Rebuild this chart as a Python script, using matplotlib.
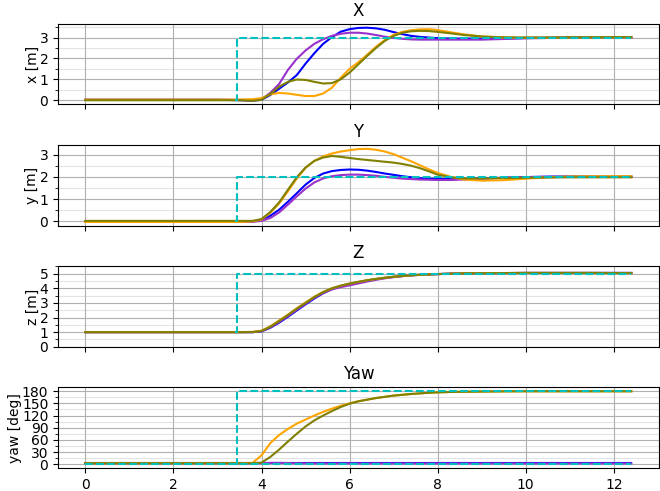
import matplotlib
matplotlib.use("Agg")
import matplotlib.pyplot as plt
from matplotlib.ticker import AutoMinorLocator

t = [0, 1, 2, 3, 3.5, 3.8, 4.0, 4.2, 4.4, 4.6, 4.8, 5.0, 5.2, 5.4, 5.6, 5.8, 6.0,
     6.2, 6.4, 6.6, 6.8, 7.0, 7.2, 7.4, 7.6, 7.8, 8.0, 8.3, 8.6, 9.0, 9.5, 10.0,
     10.5, 11.0, 11.5, 12.0, 12.4]

# reference set-points
t_ref_a = [0, 12.4]
t_ref_b = [3.4, 3.45, 3.45, 12.4]
x_ref = [0, 0, 3, 3]
y_ref = [0, 0, 2, 2]
z_ref = [1, 1, 5, 5]
yaw_ref_a = [0, 0]
yaw_ref_b = [0, 0, 180, 180]

# X [m]
x_blue = [0.02, 0.02, 0.02, 0.02, 0.0, -0.02, 0.02, 0.25, 0.55, 0.85, 1.2, 1.75, 2.25, 2.7, 3.02, 3.28, 3.4,
          3.46, 3.47, 3.44, 3.37, 3.26, 3.16, 3.08, 3.03, 3.0, 2.97, 2.95, 2.95, 2.95, 2.96, 2.98,
          2.99, 3.0, 3.0, 3.0, 3.0]
x_purple = [0.02, 0.02, 0.02, 0.02, 0.02, 0.0, 0.05, 0.35, 0.78, 1.45, 1.98, 2.38, 2.7, 2.92, 3.08, 3.18, 3.23,
            3.23, 3.19, 3.12, 3.04, 2.98, 2.94, 2.91, 2.9, 2.9, 2.9, 2.9, 2.9, 2.9, 2.93, 2.96,
            2.98, 3.0, 3.0, 3.0, 3.0]
x_orange = [0.03, 0.03, 0.03, 0.03, 0.03, 0.05, 0.1, 0.28, 0.35, 0.32, 0.26, 0.2, 0.2, 0.32, 0.6, 1.08, 1.5,
            1.82, 2.18, 2.56, 2.88, 3.13, 3.27, 3.35, 3.39, 3.4, 3.36, 3.25, 3.15, 3.05, 3.0, 2.99,
            2.99, 3.0, 3.0, 3.0, 3.0]
x_olive = [0.0, 0.0, 0.0, 0.0, 0.0, -0.03, 0.02, 0.3, 0.65, 0.88, 0.99, 0.97, 0.88, 0.8, 0.82, 1.0, 1.32,
           1.72, 2.12, 2.5, 2.84, 3.08, 3.23, 3.3, 3.32, 3.31, 3.27, 3.2, 3.12, 3.05, 3.01, 3.0,
           3.0, 3.01, 3.01, 3.02, 3.02]

# Y [m]
y_blue = [0.0, 0.0, 0.0, 0.0, 0.0, 0.0, 0.05, 0.25, 0.52, 0.88, 1.26, 1.65, 1.95, 2.15, 2.26, 2.31, 2.33,
          2.32, 2.28, 2.22, 2.15, 2.09, 2.03, 1.98, 1.94, 1.92, 1.91, 1.9, 1.91, 1.93, 1.96, 1.99,
          2.01, 2.02, 2.02, 2.01, 2.01]
y_purple = [-0.02, -0.02, -0.02, -0.02, -0.02, -0.02, 0.02, 0.15, 0.4, 0.75, 1.12, 1.47, 1.75, 1.93, 2.03, 2.08, 2.1,
            2.1, 2.08, 2.05, 2.0, 1.96, 1.92, 1.9, 1.88, 1.87, 1.86, 1.86, 1.88, 1.92, 1.96, 1.99,
            2.0, 2.0, 2.0, 2.0, 2.0]
y_orange = [-0.03, -0.03, -0.03, -0.03, -0.03, 0.0, 0.08, 0.38, 0.8, 1.35, 1.92, 2.4, 2.72, 2.92, 3.05, 3.14, 3.2,
            3.25, 3.26, 3.22, 3.14, 3.02, 2.86, 2.7, 2.52, 2.34, 2.18, 2.0, 1.88, 1.83, 1.85, 1.92,
            1.98, 2.02, 2.03, 2.03, 2.03]
y_olive = [0.02, 0.02, 0.02, 0.02, 0.02, 0.02, 0.1, 0.42, 0.85, 1.42, 1.98, 2.42, 2.72, 2.87, 2.94, 2.9, 2.85,
           2.8, 2.76, 2.72, 2.68, 2.64, 2.58, 2.5, 2.39, 2.25, 2.1, 1.98, 1.93, 1.93, 1.95, 1.96,
           1.97, 1.98, 1.98, 1.98, 1.98]

# Z [m]
z_blue = [1.0, 1.0, 1.0, 1.0, 1.0, 1.0, 1.05, 1.3, 1.65, 2.05, 2.48, 2.9, 3.3, 3.66, 3.94, 4.15, 4.3,
          4.42, 4.53, 4.63, 4.71, 4.78, 4.84, 4.89, 4.92, 4.95, 4.97, 5.0, 5.02, 5.03, 5.04, 5.05,
          5.05, 5.05, 5.05, 5.05, 5.05]
z_purple = [1.0, 1.0, 1.0, 1.0, 1.0, 1.0, 1.06, 1.33, 1.7, 2.1, 2.53, 2.95, 3.35, 3.68, 3.92, 4.08, 4.2,
            4.33, 4.46, 4.58, 4.68, 4.76, 4.83, 4.88, 4.92, 4.95, 4.97, 5.0, 5.02, 5.03, 5.04, 5.05,
            5.05, 5.05, 5.05, 5.05, 5.05]
z_orange = [1.0, 1.0, 1.0, 1.0, 1.0, 1.02, 1.1, 1.4, 1.8, 2.2, 2.63, 3.03, 3.42, 3.75, 4.0, 4.18, 4.32,
            4.44, 4.55, 4.64, 4.72, 4.79, 4.84, 4.89, 4.92, 4.95, 4.97, 5.0, 5.02, 5.03, 5.04, 5.05,
            5.05, 5.05, 5.05, 5.04, 5.04]
z_olive = [1.0, 1.0, 1.0, 1.0, 1.0, 1.01, 1.08, 1.37, 1.76, 2.17, 2.6, 3.0, 3.4, 3.74, 4.0, 4.18, 4.32,
           4.44, 4.55, 4.64, 4.72, 4.79, 4.84, 4.89, 4.92, 4.95, 4.97, 5.0, 5.02, 5.03, 5.04, 5.05,
           5.05, 5.05, 5.05, 5.04, 5.04]

# Yaw [deg]
yaw_blue = [2.0, 2.0, 2.0, 2.0, 2.0, 2.0, 2.0, 2.0, 2.0, 2.0, 2.0, 2.0, 2.0, 2.0, 2.0, 2.0, 2.0,
            2.0, 2.0, 2.0, 2.0, 2.0, 2.0, 2.0, 2.0, 2.0, 2.0, 2.0, 2.0, 2.0, 2.0, 2.0,
            2.0, 2.0, 2.0, 2.0, 2.0]
yaw_purple = [2.0, 2.0, 2.0, 2.0, 2.0, 2.0, 2.5, 3.5, 3.5, 3.0, 2.5, 2.3, 2.1, 2.0, 2.0, 2.0, 2.0,
              2.0, 2.0, 2.0, 2.0, 2.0, 2.0, 2.0, 2.0, 2.0, 2.0, 2.0, 2.0, 2.0, 2.0, 2.0,
              2.0, 2.0, 2.0, 2.0, 2.0]
yaw_orange = [2.5, 2.5, 2.5, 2.5, 2.5, 3.5, 22, 52, 72, 87, 100, 110, 120, 129, 137, 144, 150,
              155, 159, 163, 166, 169, 171, 173, 174.5, 176, 177, 178, 178.5, 179, 179.5, 179.7,
              179.7, 179.7, 179.7, 179.7, 179.7]
yaw_olive = [2.5, 2.5, 2.5, 2.5, 2.5, 2.5, 4, 18, 36, 56, 75, 93, 108, 120, 131, 141, 149,
             155, 159, 163, 166, 169, 171, 173, 174.5, 176, 177, 178, 178.5, 179, 179.5, 179.7,
             179.7, 179.7, 179.7, 179.7, 179.7]

titles = ["X", "Y", "Z", "Yaw"]
ylabels = ["x [m]", "y [m]", "z [m]", "yaw [deg]"]
colors = ["blue", "darkorchid", "orange", "olive"]
yticks = [[0, 1, 2, 3], [0, 1, 2, 3], [0, 1, 2, 3, 4, 5], [0, 30, 60, 90, 120, 150, 180]]
xticks = [0, 2, 4, 6, 8, 10, 12]

series = [
    (None, x_ref, [x_blue, x_purple, x_orange, x_olive]),
    (None, y_ref, [y_blue, y_purple, y_orange, y_olive]),
    (None, z_ref, [z_blue, z_purple, z_orange, z_olive]),
    (yaw_ref_a, yaw_ref_b, [yaw_blue, yaw_purple, yaw_orange, yaw_olive]),
]

fig, axes = plt.subplots(4, 1, figsize=(6.6, 4.91), dpi=100, sharex=True)
fig.subplots_adjust(left=0.088, right=0.998, top=0.951, bottom=0.047, hspace=0.506)
for i, ax in enumerate(axes):
    ref_a, ref_b, lines = series[i]
    for vals, c in zip(lines, colors):
        ax.plot(t, vals, color=c, linewidth=1.5)
    if ref_a is not None:
        ax.plot(t_ref_a, ref_a, color="c", linestyle="--", linewidth=1.5)
    ax.plot(t_ref_b, ref_b, color="c", linestyle="--", linewidth=1.5)
    ax.set_title(titles[i])
    ax.set_ylabel(ylabels[i], labelpad=0)
    ax.set_yticks(yticks[i])
    ax.yaxis.set_minor_locator(AutoMinorLocator(2))
    ax.grid(which="major")
    ax.grid(which="minor", axis="y", alpha=0.35)

axes[2].set_ylim(0, 5.5)
axes[3].set_xticks(xticks)

fig.savefig("out.png", dpi=100)
